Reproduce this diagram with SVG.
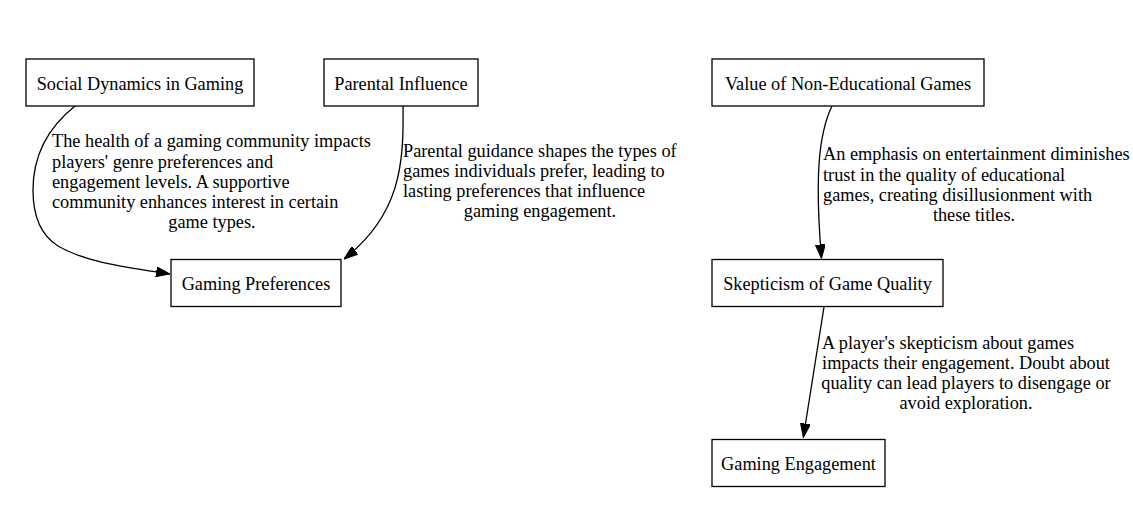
<svg xmlns="http://www.w3.org/2000/svg" width="1133" height="514" viewBox="0 0 1133 514">
<style>
.box{fill:#fff;stroke:#000;stroke-width:1.3}
.t{font-family:"Liberation Serif","Times New Roman",serif;font-size:18.3px;fill:#000}
.c{text-anchor:middle}
.e{fill:none;stroke:#000;stroke-width:1.3}
</style>
<defs>
<marker id="arr" viewBox="0 0 14 10" refX="14" refY="5" markerWidth="14" markerHeight="10" markerUnits="userSpaceOnUse" orient="auto">
<path d="M0,0 L14,5 L0,10 z" fill="#000" stroke="#000" stroke-width="1"/>
</marker>
</defs>
<rect width="1133" height="514" fill="#fff"/>
<g id="connectors">
<path class="e" d="M75,106 C45,130 33,160 33,190 C33,218 42,236 58,246 C85,262 125,267 170,274" marker-end="url(#arr)"/>
<path class="e" d="M403,106 C404,165 400,215 344,259" marker-end="url(#arr)"/>
<path class="e" d="M832,106 C818,135 815,180 821.5,258.5" marker-end="url(#arr)"/>
<path class="e" d="M824,307 L803.3,437.5" marker-end="url(#arr)"/>
<text class="t" x="52" y="147">The health of a gaming community impacts</text>
<text class="t" x="52" y="167.5">players' genre preferences and</text>
<text class="t" x="52" y="187.5">engagement levels. A supportive</text>
<text class="t" x="52" y="208">community enhances interest in certain</text>
<text class="t c" x="212" y="228">game types.</text>
<text class="t" x="403" y="157">Parental guidance shapes the types of</text>
<text class="t" x="403" y="177">games individuals prefer, leading to</text>
<text class="t" x="403" y="197">lasting preferences that influence</text>
<text class="t c" x="540" y="217">gaming engagement.</text>
<text class="t" x="823" y="160">An emphasis on entertainment diminishes</text>
<text class="t" x="823" y="180.5">trust in the quality of educational</text>
<text class="t" x="823" y="201">games, creating disillusionment with</text>
<text class="t c" x="974" y="221">these titles.</text>
<text class="t" x="822" y="349">A player's skepticism about games</text>
<text class="t c" x="966" y="369">impacts their engagement. Doubt about</text>
<text class="t c" x="966" y="389">quality can lead players to disengage or</text>
<text class="t c" x="966" y="409">avoid exploration.</text>
</g>
<g id="social">
<rect class="box" x="26" y="59" width="228" height="47"/>
<text class="t c" x="140" y="89.5">Social Dynamics in Gaming</text>
</g>
<g id="parental">
<rect class="box" x="324" y="59" width="154" height="47"/>
<text class="t c" x="401" y="89.5">Parental Influence</text>
</g>
<g id="preferences">
<rect class="box" x="171" y="259.5" width="170" height="47"/>
<text class="t c" x="256" y="290">Gaming Preferences</text>
</g>
<g id="value">
<rect class="box" x="712" y="59" width="272" height="47"/>
<text class="t c" x="848" y="89.5">Value of Non-Educational Games</text>
</g>
<g id="skepticism">
<rect class="box" x="712" y="259.5" width="231" height="47"/>
<text class="t c" x="827.5" y="290">Skepticism of Game Quality</text>
</g>
<g id="engagement">
<rect class="box" x="712" y="439.5" width="173" height="47"/>
<text class="t c" x="798.5" y="470">Gaming Engagement</text>
</g>
</svg>
